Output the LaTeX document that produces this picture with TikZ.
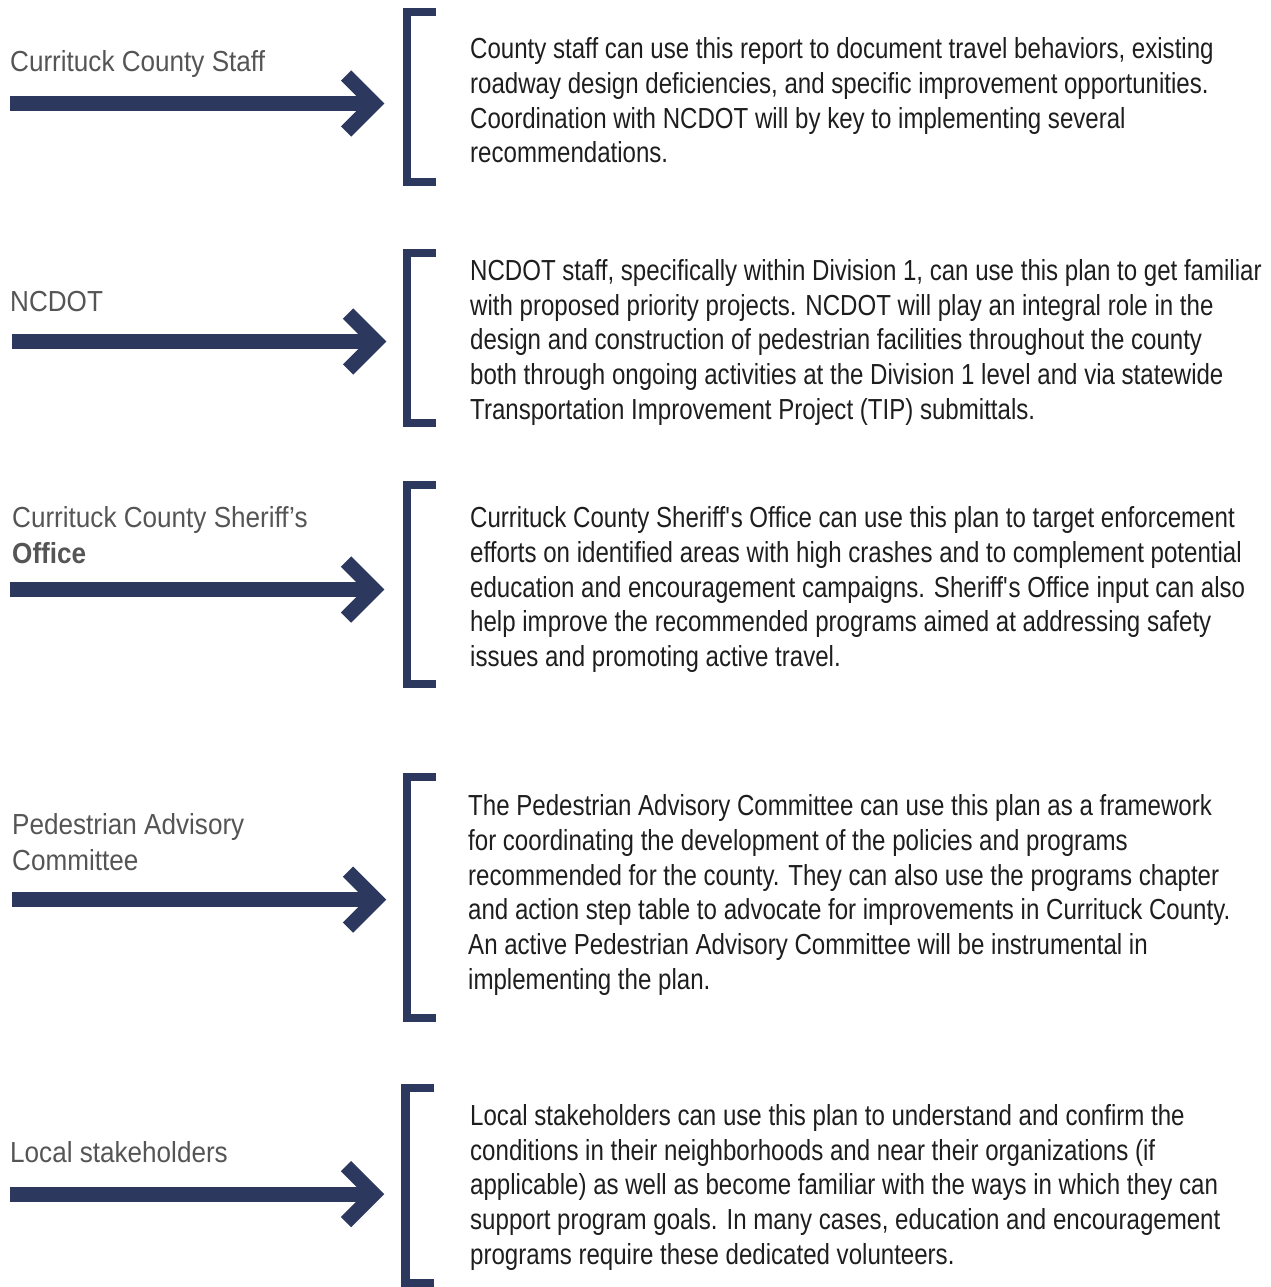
\documentclass[tikz,border=0pt]{standalone}
\usepackage{fontspec}
\usetikzlibrary{calc}
\newfontfamily\bodyfont{Liberation Sans}[FakeStretch=0.83]
\newfontfamily\labelfont{Liberation Sans}[FakeStretch=0.9]
\definecolor{navy}{HTML}{2D385E}
\definecolor{bodycol}{HTML}{1E1E1E}
\definecolor{labelcol}{HTML}{555555}
\begin{document}
\begin{tikzpicture}[x=1pt,y=-1pt,
  shaft/.style={draw=navy,line width=15pt},
  chev/.style={draw=navy,line width=14.5pt,line join=miter},
  brk/.style={draw=navy,line width=8.5pt,line join=miter},
  body/.style={anchor=base west,inner sep=0pt,text=bodycol,font=\bodyfont\fontsize{29}{34.7}\selectfont},
  lbl/.style={anchor=base west,inner sep=0pt,text=labelcol,font=\labelfont\fontsize{29}{36}\selectfont}]
\useasboundingbox (0,0) rectangle (1270,1287);

% ---------- Section 1
\node[lbl] (l1) at (10,71.7) {Currituck County Staff};
\coordinate (s1) at (10,103.5); \coordinate (v1) at (374,103.5);
\draw[shaft] (s1) -- (v1);
\draw[chev] ($(v1)+(-28,-28)$) -- (v1) -- ($(v1)+(-28,28)$);
\draw[brk] (436,12) -- (407,12) -- (407,182) -- (436,182);
\node[body] (t1) at (470,58.7) {\begin{tabular}[t]{@{}l@{}}
County staff can use this report to document travel behaviors, existing\\
roadway design deficiencies, and specific improvement opportunities.\\
Coordination with NCDOT will by key to implementing several\\
recommendations.\end{tabular}};

% ---------- Section 2
\node[lbl] (l2) at (10,311.7) {NCDOT};
\coordinate (s2) at (12,341.5); \coordinate (v2) at (376,341.5);
\draw[shaft] (s2) -- (v2);
\draw[chev] ($(v2)+(-28,-28)$) -- (v2) -- ($(v2)+(-28,28)$);
\draw[brk] (436,253) -- (407,253) -- (407,423) -- (436,423);
\node[body] (t2) at (470,280.5) {\begin{tabular}[t]{@{}l@{}}
NCDOT staff, specifically within Division 1, can use this plan to get familiar\\
with proposed priority projects. NCDOT will play an integral role in the\\
design and construction of pedestrian facilities throughout the county\\
both through ongoing activities at the Division 1 level and via statewide\\
Transportation Improvement Project (TIP) submittals.\end{tabular}};

% ---------- Section 3
\node[lbl] (l3) at (12,527) {\begin{tabular}[t]{@{}l@{}}
Currituck County Sheriff’s\\
\bfseries Office\end{tabular}};
\coordinate (s3) at (10,589.5); \coordinate (v3) at (374,589.5);
\draw[shaft] (s3) -- (v3);
\draw[chev] ($(v3)+(-28,-28)$) -- (v3) -- ($(v3)+(-28,28)$);
\draw[brk] (436,485) -- (407,485) -- (407,684) -- (436,684);
\node[body] (t3) at (470,527.8) {\begin{tabular}[t]{@{}l@{}}
Currituck County Sheriff\textquotesingle s Office can use this plan to target enforcement\\
efforts on identified areas with high crashes and to complement potential\\
education and encouragement campaigns. Sheriff\textquotesingle s Office input can also\\
help improve the recommended programs aimed at addressing safety\\
issues and promoting active travel.\end{tabular}};

% ---------- Section 4
\node[lbl] (l4) at (12,834) {\begin{tabular}[t]{@{}l@{}}
Pedestrian Advisory\\
Committee\end{tabular}};
\coordinate (s4) at (12,899.5); \coordinate (v4) at (376,899.5);
\draw[shaft] (s4) -- (v4);
\draw[chev] ($(v4)+(-28,-28)$) -- (v4) -- ($(v4)+(-28,28)$);
\draw[brk] (436,777) -- (407,777) -- (407,1018) -- (436,1018);
\node[body] (t4) at (468,815.7) {\begin{tabular}[t]{@{}l@{}}
The Pedestrian Advisory Committee can use this plan as a framework\\
for coordinating the development of the policies and programs\\
recommended for the county. They can also use the programs chapter\\
and action step table to advocate for improvements in Currituck County.\\
An active Pedestrian Advisory Committee will be instrumental in\\
implementing the plan.\end{tabular}};

% ---------- Section 5
\node[lbl] (l5) at (10,1162.7) {Local stakeholders};
\coordinate (s5) at (10,1194); \coordinate (v5) at (374,1194);
\draw[shaft] (s5) -- (v5);
\draw[chev] ($(v5)+(-28,-28)$) -- (v5) -- ($(v5)+(-28,28)$);
\draw[brk] (434,1088) -- (405.5,1088) -- (405.5,1283) -- (434,1283);
\node[body] (t5) at (470,1125.3) {\begin{tabular}[t]{@{}l@{}}
Local stakeholders can use this plan to understand and confirm the\\
conditions in their neighborhoods and near their organizations (if\\
applicable) as well as become familiar with the ways in which they can\\
support program goals. In many cases, education and encouragement\\
programs require these dedicated volunteers.\end{tabular}};
\end{tikzpicture}
\end{document}
